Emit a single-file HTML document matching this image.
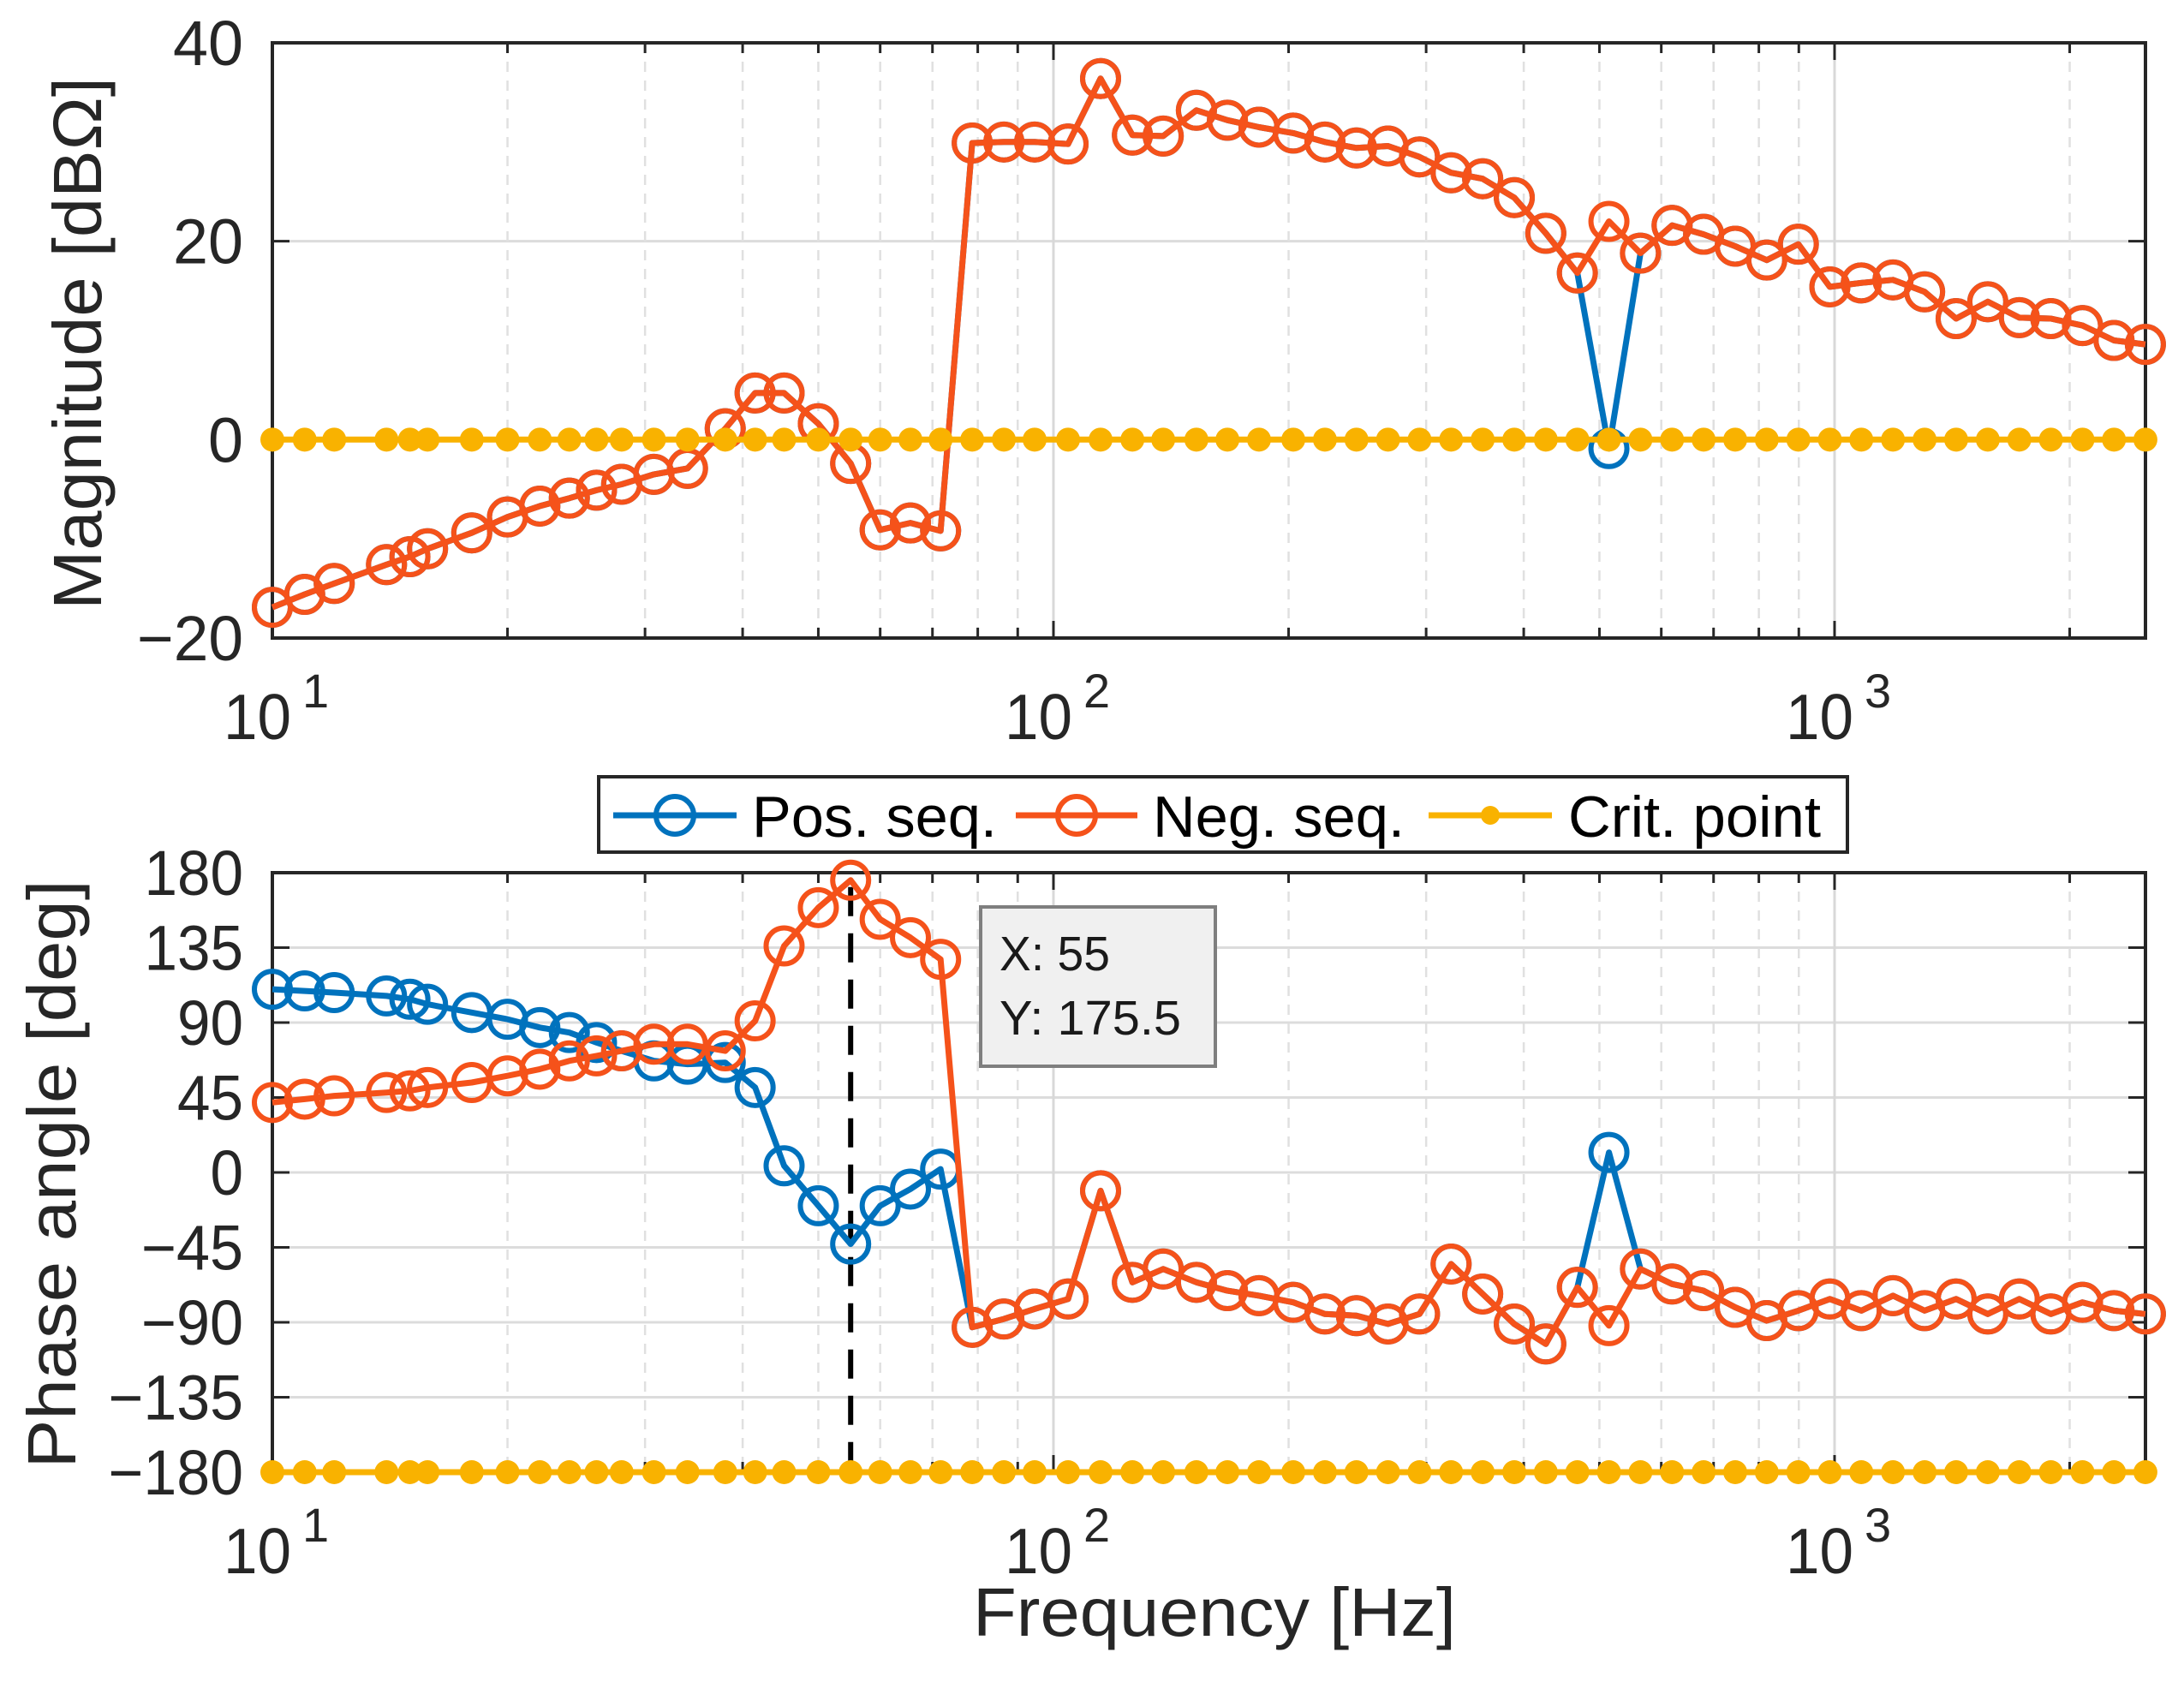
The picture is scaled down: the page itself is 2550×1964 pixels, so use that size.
<!DOCTYPE html>
<html><head><meta charset="utf-8"><title>Impedance Bode plot</title>
<style>
html,body{margin:0;padding:0;background:#fff;}
svg{display:block;font-family:"Liberation Sans",Arial,sans-serif;}
</style></head>
<body>
<svg id="chart" xmlns="http://www.w3.org/2000/svg" width="2550" height="1964" viewBox="0 0 2550 1964">
<rect x="0" y="0" width="2550" height="1964" fill="#fff"/>
<g id="top-axes"></g>
<g id="bot-axes"></g>
</svg>
<script>
const freqs = [10,11,12,14,15,15.8,18,20,22,24,26,28,30.8,34,38,41.5,45.2,50,55,60,65.6,71.7,
  78.7,86.4,94.6,104.4,114.9,126.2,138.2,152.4,167,183.3,
  202.8,222.6,244.3,268.1,294.2,322.9,354.4,389,426.9,468.5,514.2,564.3,619.4,679.8,746.1,818.8,898.7,986.3,1082,1188,1304,1431,1571,1724,1892,2077,2279,2500];
const magNeg = [-16.9,-15.6,-14.5,-12.6,-11.8,-11.0,-9.4,-7.8,-6.7,-5.9,-5.1,-4.5,-3.5,-2.9,1.1,4.7,4.7,1.6,-2.4,-9.1,-8.4,-9.2,
  29.9,30.0,30.0,29.8,36.4,30.7,30.6,33.2,32.2,31.5,
  30.9,30.0,29.4,29.6,28.5,26.9,26.3,24.4,20.8,16.8,22.0,18.8,21.6,20.7,19.5,18.1,19.7,15.4,15.8,16.1,14.9,12.2,13.9,12.3,12.2,11.5,10.0,9.6];
const magPos = [-16.9,-15.6,-14.5,-12.6,-11.8,-11.0,-9.4,-7.8,-6.7,-5.9,-5.1,-4.5,-3.5,-2.9,1.1,4.7,4.7,1.6,-2.4,-9.1,-8.4,-9.2,
  29.9,30.0,30.0,29.8,36.4,30.7,30.6,33.2,32.2,31.5,
  30.9,30.0,29.4,29.6,28.5,26.9,26.3,24.4,20.8,16.8,-0.9,18.8,21.6,20.7,19.5,18.1,19.7,15.4,15.8,16.1,14.9,12.2,13.9,12.3,12.2,11.5,10.0,9.6];
const phaseNeg = [42,44,46,48,49,51,54,58,62,67,70,73,77,77,73,91,136,159,175.5,152,141,128,
  -93,-88,-82,-76,-11,-66,-58,-66,-71,-74,
  -78,-85,-86,-91,-85,-55,-73,-91,-103,-69,-92,-58,-67,-71,-81,-89,-83,-76,-83,-74,-83,-76,-85,-76,-85,-78,-83,-85];
const phasePos = [110,109,108,106,104,101,96,92,87,84,78,73,67,65,66,51,4,-20,-43,-20,-10,2,
  -93,-88,-82,-76,-11,-66,-58,-66,-71,-74,
  -78,-85,-86,-91,-85,-55,-73,-91,-103,-69,12,-58,-67,-71,-81,-89,-83,-76,-83,-74,-83,-76,-85,-76,-85,-78,-83,-85];
const critMag = 0;
const critPhase = -180;
const magTicks = [40,20,0,-20];
const phaseTicks = [180,135,90,45,0,-45,-90,-135,-180];
const xDecades = [1,2,3];
const tipX = 55;
const tipY = 175.5;

const NS = "http://www.w3.org/2000/svg";
const BLUE = "#0072bd", ORANGE = "#f5521a", YELLOW = "#f9b200";
const XL = 318, XR = 2505, DEC = 912;
const xs = f => XL + DEC * Math.log10(f / 10);
const T = {top:50, bot:745, min:-20, max:40};
const B = {top:1019, bot:1719, min:-180, max:180};
const ys = (ax, v) => ax.top + (ax.max - v) * (ax.bot - ax.top) / (ax.max - ax.min);

function mk(parent, tag, attrs, text) {
  const el = document.createElementNS(NS, tag);
  for (const k in attrs) el.setAttribute(k, attrs[k]);
  if (text !== undefined) el.textContent = text;
  parent.appendChild(el);
  return el;
}

function drawAxes(g, ax, ticks, tickW) {
  for (const t of ticks) {
    const y = ys(ax, t);
    if (y > ax.top + 1 && y < ax.bot - 1) {
      const l = mk(g, "line", {x1:XL, x2:XR, y1:y, y2:y, stroke:"#dcdcdc", "stroke-width":3});
      
      
    }
  }
  for (let d = 1; d <= 3; d++) {
    for (let m = 1; m <= 9; m++) {
      const f = m * Math.pow(10, d);
      const x = xs(f);
      if (x > XR + 1) continue;
      const major = m === 1;
      if (x > XL + 1 && x < XR - 1) {
        const l = mk(g, "line", {x1:x, x2:x, y1:ax.top, y2:ax.bot, stroke: major ? "#d8d8d8" : "#e0e0e0", "stroke-width": major ? 3 : 2.5, "stroke-dasharray": major ? "none" : "12 10"});
        
        
      }
      const len = major ? 20 : 12;
      mk(g, "line", {x1:x, x2:x, y1:ax.bot, y2:ax.bot - len, stroke:"#262626", "stroke-width":3});
      mk(g, "line", {x1:x, x2:x, y1:ax.top, y2:ax.top + len, stroke:"#262626", "stroke-width":3});
    }
  }
  for (const t of ticks) {
    const y = ys(ax, t);
    mk(g, "line", {x1:XL, x2:XL + 20, y1:y, y2:y, stroke:"#262626", "stroke-width":3});
    mk(g, "line", {x1:XR, x2:XR - 20, y1:y, y2:y, stroke:"#262626", "stroke-width":3});
    const s = t < 0 ? "\u2212" + Math.abs(t) : String(t);
    const w = String(Math.abs(t)).length * tickW + (t < 0 ? 42 : 0);
    const tx = mk(g, "text", {x:284, y:y + 26, "text-anchor":"end", "font-size":74, fill:"#262626", textLength:w, lengthAdjust:"spacingAndGlyphs"}, s);
    
    
  }
  for (const d of xDecades) {
    const x = xs(Math.pow(10, d));
    const base = ax.bot + 118;
    const t1 = mk(g, "text", {x:x - 57, y:base, "font-size":75, fill:"#262626", textLength:79, lengthAdjust:"spacingAndGlyphs"}, "10");
    
    
    const t2 = mk(g, "text", {x:x + 35, y:base - 37, "font-size":56, fill:"#262626"}, String(d));
    
    
  }
  const box = mk(g, "rect", {x:XL, y:ax.top, width:XR - XL, height:ax.bot - ax.top, fill:"none", stroke:"#262626", "stroke-width":4});
  
  
}

function series(g, ax, vals, color, kind, name) {
  const sg = mk(g, "g", {});
  
  
  const pts = freqs.map((f, i) => xs(f).toFixed(1) + "," + ys(ax, vals[i]).toFixed(1)).join(" ");
  mk(sg, "polyline", {points:pts, fill:"none", stroke:color, "stroke-width":7, "stroke-linejoin":"round"});
  freqs.forEach((f, i) => {
    let c;
    if (kind === "open") c = mk(sg, "circle", {cx:xs(f), cy:ys(ax, vals[i]), r:21, fill:"none", stroke:color, "stroke-width":6});
    else c = mk(sg, "circle", {cx:xs(f), cy:ys(ax, vals[i]), r:14, fill:color});
    
    
  });
}

const svg = document.getElementById("chart");
const gt = document.getElementById("top-axes");
const gb = document.getElementById("bot-axes");
drawAxes(gt, T, magTicks, 41);
drawAxes(gb, B, phaseTicks, 38.5);

series(gt, T, magPos, BLUE, "open", "mag-pos-seq");
series(gt, T, magNeg, ORANGE, "open", "mag-neg-seq");
series(gt, T, freqs.map(() => critMag), YELLOW, "dot", "mag-crit-point");

const dl = mk(gb, "line", {x1:xs(tipX), x2:xs(tipX), y1:ys(B, tipY) + 8, y2:B.bot, stroke:"#000", "stroke-width":6, "stroke-dasharray":"34 20"});



series(gb, B, phasePos, BLUE, "open", "phase-pos-seq");
series(gb, B, phaseNeg, ORANGE, "open", "phase-neg-seq");
series(gb, B, freqs.map(() => critPhase), YELLOW, "dot", "phase-crit-point");

const tip = mk(svg, "g", {});


mk(tip, "rect", {x:1145, y:1059, width:274, height:186, fill:"#f0f0f0", stroke:"#7f7f7f", "stroke-width":4});
mk(tip, "text", {x:1167, y:1133, "font-size":57, fill:"#1a1a1a", textLength:129, lengthAdjust:"spacingAndGlyphs"}, "X: " + tipX);
mk(tip, "text", {x:1167, y:1208, "font-size":57, fill:"#1a1a1a", textLength:212, lengthAdjust:"spacingAndGlyphs"}, "Y: " + tipY);

const lg = mk(svg, "g", {});


mk(lg, "rect", {x:699, y:907, width:1458, height:88, fill:"#fff", stroke:"#262626", "stroke-width":4});
const entries = [
  {label:"Pos. seq.", color:BLUE, kind:"open", x0:716, x1:860, tx:878, tw:286, name:'legend-entry-pos-seq'},
  {label:"Neg. seq.", color:ORANGE, kind:"open", x0:1186, x1:1328, tx:1346, tw:294, name:'legend-entry-neg-seq'},
  {label:"Crit. point", color:YELLOW, kind:"dot", x0:1668, x1:1812, tx:1831, tw:295, name:'legend-entry-crit-point'}
];
for (const e of entries) {
  const eg = mk(lg, "g", {});
  
  
  mk(eg, "line", {x1:e.x0, x2:e.x1, y1:952, y2:952, stroke:e.color, "stroke-width":7});
  const cx = (e.x0 + e.x1) / 2;
  if (e.kind === "open") mk(eg, "circle", {cx:cx, cy:952, r:22, fill:"none", stroke:e.color, "stroke-width":6});
  else mk(eg, "circle", {cx:cx, cy:952, r:11, fill:e.color});
  mk(eg, "text", {x:e.tx, y:977, "font-size":68, fill:"#000", textLength:e.tw, lengthAdjust:"spacingAndGlyphs"}, e.label);
}

const yl1 = mk(svg, "text", {x:0, y:0, "font-size":80, fill:"#262626", "text-anchor":"middle", transform:"translate(118,401) rotate(-90)", textLength:622, lengthAdjust:"spacingAndGlyphs"}, "Magnitude [dB\u03A9]");


const yl2 = mk(svg, "text", {x:0, y:0, "font-size":80, fill:"#262626", "text-anchor":"middle", transform:"translate(88,1371) rotate(-90)", textLength:687, lengthAdjust:"spacingAndGlyphs"}, "Phase angle [deg]");


const xl = mk(svg, "text", {x:1136, y:1910, "font-size":80, fill:"#262626", textLength:564, lengthAdjust:"spacingAndGlyphs"}, "Frequency [Hz]");


</script>
</body></html>
